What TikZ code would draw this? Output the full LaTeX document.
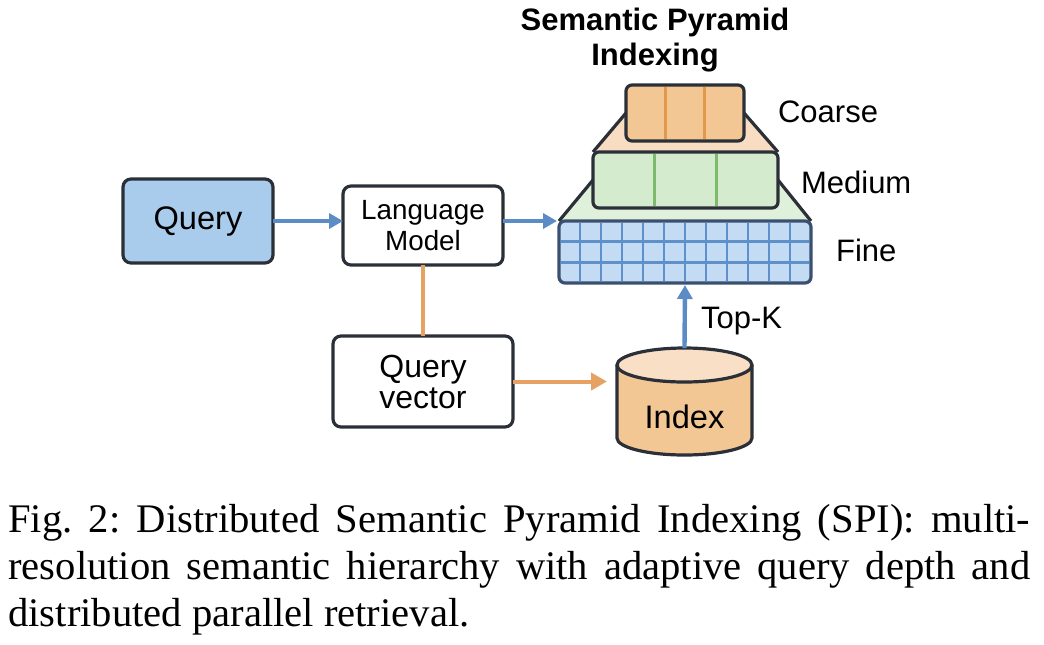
\documentclass[tikz,border=0pt]{standalone}
\usepackage{fontspec}
\setmainfont{Liberation Serif}
\setsansfont{Liberation Sans}
\usetikzlibrary{shapes,arrows.meta,calc,backgrounds}
\definecolor{edge}{HTML}{2B3038}
\definecolor{qblue}{HTML}{A9CBEC}
\definecolor{arrblue}{HTML}{5B8CC6}
\definecolor{arrorange}{HTML}{E6A263}
\definecolor{coarsefill}{HTML}{F3C794}
\definecolor{coarseline}{HTML}{E29A4A}
\definecolor{coarsetrap}{HTML}{F8DDC2}
\definecolor{medfill}{HTML}{D4ECCD}
\definecolor{medline}{HTML}{7DBA6C}
\definecolor{medtrap}{HTML}{E0F1DB}
\definecolor{finefill}{HTML}{C3DCF4}
\definecolor{fineline}{HTML}{5E91CB}
\definecolor{fineedge}{HTML}{3B5070}
\definecolor{idxtop}{HTML}{F8DFC6}

\begin{document}
\frenchspacing
\begin{tikzpicture}[x=0.5pt,y=-0.5pt]
    \tikzstyle{box}=[rectangle,draw=edge,line width=1.6pt,rounded corners=4pt,fill=white,outer sep=0pt,align=center,font=\sffamily\fontsize{16}{15.5}\selectfont]
    \tikzstyle{layer}=[rectangle,draw=edge,line width=1.6pt,rounded corners=3pt,outer sep=0pt]
    \tikzstyle{lbl}=[anchor=west,font=\sffamily\fontsize{15.5}{18}\selectfont]
    \tikzstyle{bar}=[-{Triangle[length=7pt,width=7.5pt]},line width=2.2pt,arrblue]
    \tikzstyle{obar}=[line width=2pt,arrorange]
    \useasboundingbox (0,0) rectangle (1044,644);
    \node[box,fill=qblue,minimum width=75pt,minimum height=42pt,font=\sffamily\fontsize{16.3}{19}\selectfont] (q) at (198,221) {Query};
    \node[box,minimum width=80pt,minimum height=39.5pt,font=\sffamily\fontsize{13.9}{15.5}\selectfont] (lm) at (423,225.5) {Language\\Model};
    \node[box,minimum width=90pt,minimum height=45.5pt] (qv) at (423,381.5) {Query\\vector};
    \node[layer,fill=finefill,draw=fineedge,minimum width=126pt,minimum height=31pt] (fine) at (685,252) {};
    \node[layer,fill=medfill,minimum width=92.5pt,minimum height=28pt] (med) at (685.5,180) {};
    \node[layer,fill=coarsefill,minimum width=59pt,minimum height=28pt] (coarse) at (685,113) {};
    \begin{scope}[on background layer]
      \draw[fill=medtrap,draw=edge,line width=1.6pt,line join=round] (fine.north west) -- (med.west) -- (med.east) -- (fine.north east);
      \draw[fill=coarsetrap,draw=edge,line width=1.6pt,line join=round] (med.north west) -- (coarse.west) -- (coarse.east) -- (med.north east);
    \end{scope}
    \foreach \i in {1,...,11}
      \draw[fineline,line width=1.2pt,shorten <=0.8pt,shorten >=0.8pt] ($(fine.north west)+(21*\i,0)$) -- ($(fine.south west)+(21*\i,0)$);
    \foreach \j in {1,2}
      \draw[fineline,line width=1.2pt,shorten <=0.8pt,shorten >=0.8pt] ($(fine.north west)+(0,20.67*\j)$) -- ($(fine.north east)+(0,20.67*\j)$);
    \foreach \i in {1,2} {
      \draw[medline,line width=1.4pt,shorten <=0.8pt,shorten >=0.8pt] ($(med.north west)!\i/3!(med.north east)$) -- ($(med.south west)!\i/3!(med.south east)$);
      \draw[coarseline,line width=1.4pt,shorten <=0.8pt,shorten >=0.8pt] ($(coarse.north west)!\i/3!(coarse.north east)$) -- ($(coarse.south west)!\i/3!(coarse.south east)$);
    }
    \node[minimum width=67.5pt,minimum height=53.5pt,outer sep=0pt] (idx) at (684.5,401.5) {};
    \draw[edge,fill=coarsefill,line width=1.6pt] ($(idx.north west)+(0,17)$) -- ($(idx.south west)+(0,-17)$) arc[start angle=180,end angle=360,x radius=33.75pt,y radius=8.5pt] -- ($(idx.north east)+(0,17)$);
    \draw[edge,fill=idxtop,line width=1.6pt] ($(idx.north)+(0,17)$) ellipse[x radius=33.75pt,y radius=8.5pt];
    \node[font=\sffamily\fontsize{16.3}{19}\selectfont] (idxt) at (684.5,417) {Index};
    \node[align=center,font=\sffamily\bfseries\fontsize{15.5}{17.5}\selectfont] (title) at (655,40) {Semantic Pyramid\\Indexing};
    \node[lbl] (lc) at (771,112) {Coarse};
    \node[lbl] (lmd) at (794,182) {Medium};
    \node[lbl] (lf) at (829,250) {Fine};
    \node[lbl] (topk) at (694,321) {Top-K};
    \draw[bar] (q) -- (q -| lm.west);
    \draw[bar,shorten >=1pt] (lm.east |- q) -- (fine.north west);
    \draw[bar,shorten >=1pt] (idx.north) -- (fine.south);
    \draw[obar] (lm.south) -- (qv.north);
    \draw[obar,-{Triangle[length=8pt,width=8.5pt]},shorten >=5pt] (qv.east) -- (qv.east -| idx.west);
    \node[anchor=north west,inner sep=0pt,text width=511pt,align=justify,font=\rmfamily\fontsize{20.3}{23.5}\selectfont] (cap) at (8,504) {Fig.~2: Distributed Semantic Pyramid Indexing (SPI): multi-\linebreak resolution semantic hierarchy with adaptive query depth and\linebreak distributed parallel retrieval.};
\end{tikzpicture}
\end{document}
